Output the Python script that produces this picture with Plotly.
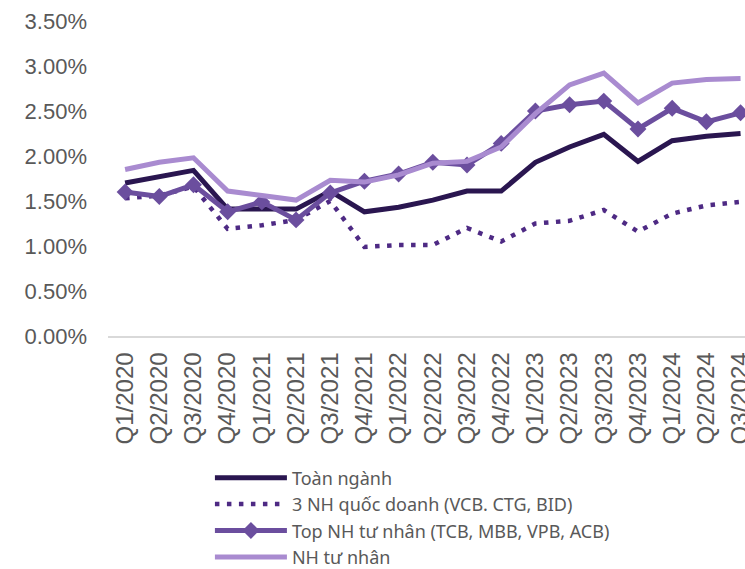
import plotly.graph_objects as go

quarters = ["Q1/2020", "Q2/2020", "Q3/2020", "Q4/2020", "Q1/2021", "Q2/2021", "Q3/2021",
            "Q4/2021", "Q1/2022", "Q2/2022", "Q3/2022", "Q4/2022", "Q1/2023", "Q2/2023",
            "Q3/2023", "Q4/2023", "Q1/2024", "Q2/2024", "Q3/2024"]

toan_nganh = [1.70, 1.77, 1.84, 1.41, 1.41, 1.41, 1.61, 1.38, 1.43, 1.51, 1.61, 1.61,
              1.93, 2.10, 2.24, 1.94, 2.17, 2.22, 2.25]
quoc_doanh = [1.53, 1.56, 1.66, 1.19, 1.23, 1.29, 1.50, 0.99, 1.01, 1.01, 1.20, 1.05,
              1.25, 1.28, 1.40, 1.16, 1.36, 1.45, 1.49]
top_tu_nhan = [1.60, 1.55, 1.68, 1.38, 1.49, 1.29, 1.59, 1.72, 1.80, 1.93, 1.90, 2.14,
               2.50, 2.57, 2.61, 2.30, 2.53, 2.38, 2.48]
tu_nhan = [1.85, 1.93, 1.98, 1.61, 1.56, 1.51, 1.73, 1.71, 1.79, 1.92, 1.94, 2.10,
           2.47, 2.79, 2.92, 2.59, 2.81, 2.85, 2.86]

names = ["Toàn ngành", "3 NH quốc doanh (VCB. CTG, BID)",
         "Top NH tư nhân (TCB, MBB, VPB, ACB)", "NH tư nhân"]
y_ticks = [0, 0.5, 1.0, 1.5, 2.0, 2.5, 3.0, 3.5]
y_ticklabels = ["0.00%", "0.50%", "1.00%", "1.50%", "2.00%", "2.50%", "3.00%", "3.50%"]

c_dark = "#2a1650"
c_dot = "#4e2a84"
c_top = "#6b4e9e"
c_light = "#a98bd0"

fig = go.Figure()
fig.add_trace(go.Scatter(x=quarters, y=toan_nganh, name=names[0], mode="lines",
                         line=dict(color=c_dark, width=5)))
fig.add_trace(go.Scatter(x=quarters, y=quoc_doanh, name=names[1], mode="lines",
                         line=dict(color=c_dot, width=4.5, dash="4.5px,7.5px")))
fig.add_trace(go.Scatter(x=quarters, y=top_tu_nhan, name=names[2], mode="lines+markers",
                         line=dict(color=c_top, width=5),
                         marker=dict(symbol="diamond", size=13, color=c_top)))
fig.add_trace(go.Scatter(x=quarters, y=tu_nhan, name=names[3], mode="lines",
                         line=dict(color=c_light, width=5)))

fig.update_layout(
    width=745, height=569,
    margin=dict(l=108, r=0, t=21, b=233, autoexpand=False),
    plot_bgcolor="white", paper_bgcolor="white",
    showlegend=True,
    legend=dict(
        x=0.16, y=-0.392, xanchor="left", yanchor="top",
        font=dict(family="Noto Sans", size=18, color="#595959"),
        bgcolor="rgba(0,0,0,0)", itemwidth=72, tracegroupgap=0,
    ),
    xaxis=dict(
        type="category", range=[-0.5, 18.13],
        tickmode="array", tickvals=quarters, ticktext=quarters,
        tickangle=-90, tickfont=dict(family="Liberation Sans", size=24, color="#595959"),
        ticklabelstandoff=5,
        showgrid=False, showline=True, linecolor="#d9d9d9", linewidth=1.5,
        ticks="", zeroline=False,
    ),
    yaxis=dict(
        range=[0, 3.5], tickvals=y_ticks, ticktext=y_ticklabels,
        tickfont=dict(family="Liberation Sans", size=22, color="#595959"),
        ticklabelstandoff=20,
        showgrid=False, showline=False, zeroline=False, ticks="",
    ),
)

fig.write_html("out.html")
